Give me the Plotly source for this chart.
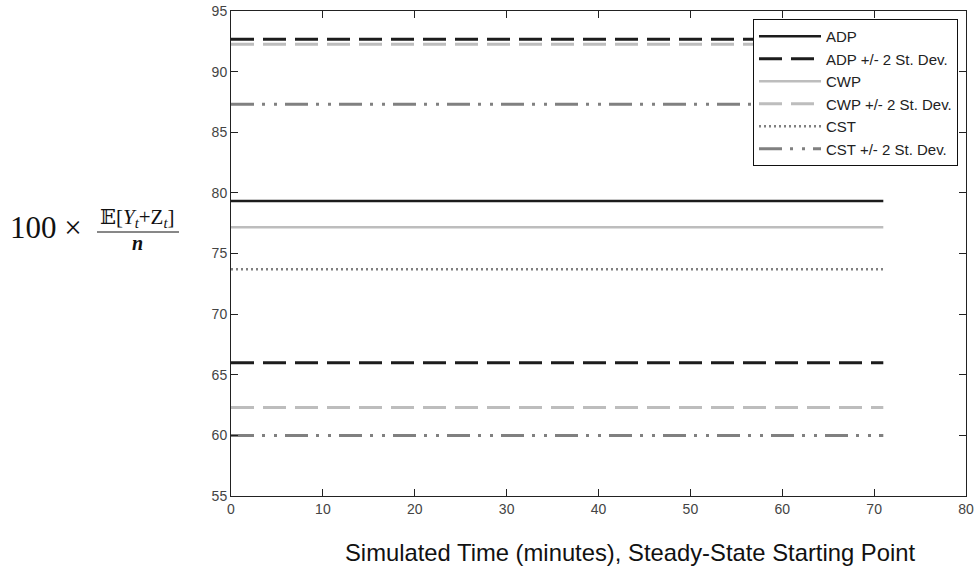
import plotly.graph_objects as go

# ---- data ----
x_minutes = [0, 71]
adp = [79.33, 79.33]
adp_hi = [92.67, 92.67]
adp_lo = [66.0, 66.0]
cwp = [77.17, 77.17]
cwp_hi = [92.25, 92.25]
cwp_lo = [62.3, 62.3]
cst = [73.7, 73.7]
cst_hi = [87.3, 87.3]
cst_lo = [60.0, 60.0]

series_names = ["ADP", "ADP +/- 2 St. Dev.", "CWP", "CWP +/- 2 St. Dev.", "CST", "CST +/- 2 St. Dev."]
x_ticks = [0, 10, 20, 30, 40, 50, 60, 70, 80]
y_ticks = [55, 60, 65, 70, 75, 80, 85, 90, 95]

# ---- figure ----
W, H = 977, 571
L, R, T, B = 231, 11, 11, 75
PW, PH = W - L - R, H - T - B

def px_x(px):
    return (px - L) / PW

def px_y(py):
    return 1 - (py - T) / PH

BLACK = "#1c1c1c"
LIGHT = "#bdbdbd"
MID = "#808080"
DASH = "23px,9px"
DASHDOT = "23px,8px,3px,9px,3px,8px"

fig = go.Figure()

def add(y, name, color, dash, width, show=True):
    fig.add_trace(go.Scatter(x=x_minutes, y=y, mode="lines", name=name,
                             line=dict(color=color, dash=dash, width=width),
                             showlegend=show, hoverinfo="skip"))

add(adp, series_names[0], BLACK, "solid", 2.5)
add(adp_hi, series_names[1], BLACK, DASH, 3)
add(cwp, series_names[2], LIGHT, "solid", 2.5)
add(cwp_hi, series_names[3], LIGHT, DASH, 3)
add(cst, series_names[4], MID, "2px,3px", 2.5)
add(cst_hi, series_names[5], MID, DASHDOT, 3)
add(adp_lo, series_names[1], BLACK, DASH, 3, False)
add(cwp_lo, series_names[3], LIGHT, DASH, 3, False)
add(cst_lo, series_names[5], MID, DASHDOT, 3, False)

axis_common = dict(showgrid=False, zeroline=False, showline=True, linecolor="#222",
                   linewidth=1, mirror="ticks", ticks="inside", ticklen=7,
                   tickcolor="#222", automargin=False,
                   tickfont=dict(family="Liberation Sans, Arial", size=14, color="#444"))

fig.update_xaxes(range=[0, 80], tickvals=x_ticks, **axis_common)
fig.update_yaxes(range=[55, 95], tickvals=y_ticks, **axis_common)

fig.update_layout(
    width=W, height=H,
    margin=dict(l=L, r=R, t=T, b=B, pad=0, autoexpand=False),
    paper_bgcolor="white", plot_bgcolor="white",
    font=dict(family="Liberation Sans, Arial", color="#111"),
    legend=dict(x=px_x(958), y=px_y(19), xanchor="right", yanchor="top",
                bordercolor="#111", borderwidth=1, bgcolor="white",
                font=dict(family="Liberation Sans, Arial", size=15, color="#222"),
                tracegroupgap=0, itemwidth=62),
    showlegend=True,
)

# x-axis title
fig.add_annotation(text="Simulated Time (minutes), Steady-State Starting Point",
                   xref="paper", yref="paper", x=px_x(630), y=px_y(552),
                   xanchor="center", yanchor="middle", showarrow=False,
                   font=dict(family="Liberation Sans, Arial", size=23.8, color="#111"))

# y-axis label: 100 x E[Y_t+Z_t]/n
SERIF = "Liberation Serif, Times New Roman, DejaVu Serif"
fig.add_annotation(text="100 ×", xref="paper", yref="paper", x=px_x(8), y=px_y(227),
                   xanchor="left", yanchor="middle", showarrow=False,
                   font=dict(family=SERIF, size=31, color="#111"))
fig.add_annotation(text="𝔼[<i>Y</i><sub><i>t</i></sub>+Z<sub><i>t</i></sub>]",
                   xref="paper", yref="paper", x=px_x(137), y=px_y(218),
                   xanchor="center", yanchor="middle", showarrow=False,
                   font=dict(family=SERIF, size=21, color="#111"))
fig.add_shape(type="line", xref="paper", yref="paper",
              x0=px_x(97), x1=px_x(179), y0=px_y(232), y1=px_y(232),
              line=dict(color="#111", width=1))
fig.add_annotation(text="<b><i>n</i></b>", xref="paper", yref="paper", x=px_x(137), y=px_y(243),
                   xanchor="center", yanchor="middle", showarrow=False,
                   font=dict(family=SERIF, size=20, color="#111"))

fig.write_html("out.html", config={"displayModeBar": False},
               post_script="document.body.style.margin='0';document.body.style.overflow='hidden';")
